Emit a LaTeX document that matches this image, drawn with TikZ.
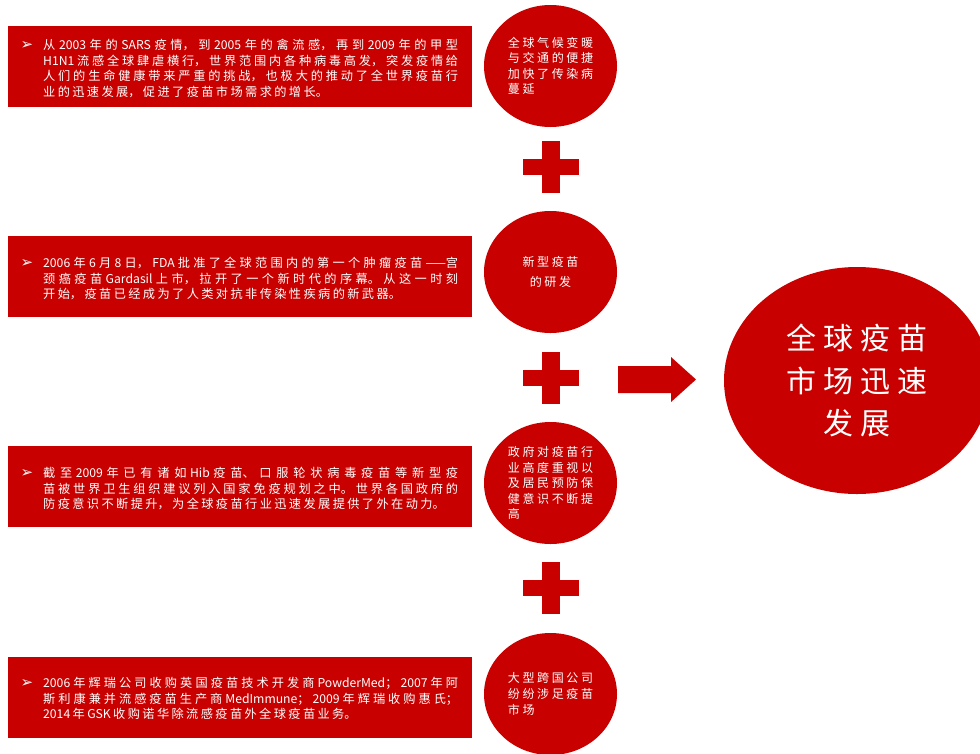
\documentclass[tikz,border=0pt]{standalone}
\usepackage{fontspec}
\usetikzlibrary{shapes.geometric}
\newfontfamily\cjkbox{Noto Sans CJK SC}
\newfontfamily\cjkcirc[LetterSpace=22]{Noto Sans CJK SC}
\newfontfamily\cjkbig[LetterSpace=23]{Noto Sans CJK SC}
\newfontfamily\dejavu{DejaVu Sans}
\XeTeXlinebreaklocale "zh"
\XeTeXlinebreakskip=0pt plus 4pt
\newcommand\myboxfont{\cjkbox\fontsize{12.2}{15.6}\selectfont\XeTeXlinebreakskip=2.4pt plus 4pt\relax}
\definecolor{vred}{HTML}{C80000}
\begin{document}
\begin{tikzpicture}[x=1pt,y=-1pt,
  box/.style={fill=vred,draw=none},
  boxtext/.style={anchor=west,inner sep=0pt,text width=415pt,align=justify,text=white,
    font=\myboxfont},
  bullet/.style={inner sep=0pt,text=white,font=\dejavu\fontsize{15}{15}\selectfont},
  circ/.style={ellipse,fill=vred,draw=none,minimum width=133pt,minimum height=122pt,inner sep=0pt,
    text=white,font=\cjkcirc\fontsize{12}{15.6}\selectfont},
  bigcirc/.style={ellipse,fill=vred,draw=none,minimum width=266pt,minimum height=227pt,inner sep=0pt,
    text=white,align=center,font=\cjkbig\fontsize{30}{42.5}\selectfont},
  plusbar/.style={fill=vred,draw=none}
]
\path[use as bounding box] (0,0) rectangle (980,753);
\clip (0,0) rectangle (980,753);

% left boxes
\path[box] (8,26) rectangle (472,107);
\path[box] (8,236) rectangle (472,317);
\path[box] (8,446) rectangle (472,527);
\path[box] (8,657) rectangle (472,738);

\node[bullet] (u1) at (27,45) {➢};
\node[bullet] (u2) at (27,263) {➢};
\node[bullet] (u3) at (27,473) {➢};
\node[bullet] (u4) at (27,683) {➢};

\node[boxtext] (t1) at (43,68.5) {从2003年的SARS疫情，到2005年的禽流感，再到2009年的甲型\linebreak
H1N1流感全球肆虐横行，世界范围内各种病毒高发，突发疫情给\linebreak
人们的生命健康带来严重的挑战，也极大的推动了全世界疫苗行\linebreak
业的迅速发展，促进了疫苗市场需求的增长。};
\node[boxtext] (t2) at (43,278.5) {2006年6月8日，FDA 批准了全球范围内的第一个肿瘤疫苗——宫\linebreak
颈癌疫苗Gardasil上市，拉开了一个新时代的序幕。从这一时刻\linebreak
开始，疫苗已经成为了人类对抗非传染性疾病的新武器。};
\node[boxtext] (t3) at (43,488.5) {截至 2009 年已有诸如 Hib 疫苗、口服轮状病毒疫苗等新型疫\linebreak
苗被世界卫生组织建议列入国家免疫规划之中。世界各国政府的\linebreak
防疫意识不断提升，为全球疫苗行业迅速发展提供了外在动力。};
\node[boxtext] (t4) at (43,698.5) {2006年辉瑞公司收购英国疫苗技术开发商 PowderMed；2007年阿\linebreak
斯利康兼并流感疫苗生产商MedImmune；2009年辉瑞收购惠氏；\linebreak
2014年GSK收购诺华除流感疫苗外全球疫苗业务。};

% circles
\node[circ,align=left] (c1) at (550.5,66) {全球气候变暖\\与交通的便捷\\加快了传染病\\蔓延};
\node[circ,align=center,font=\cjkcirc\fontsize{12}{20}\selectfont] (c2) at (550.5,272) {新型疫苗\\的研发};
\node[circ,align=left] (c3) at (550.5,483) {政府对疫苗行\\业高度重视以\\及居民预防保\\健意识不断提\\高};
\node[circ,align=left] (c4) at (550.5,694) {大型跨国公司\\纷纷涉足疫苗\\市场};

% plus signs
\foreach \n/\cy in {p1/167,p2/377.5,p3/588}{
  \path[plusbar] (523,\cy-8) rectangle (579,\cy+8);
  \path[plusbar] (542,\cy-26) rectangle (560,\cy+26);
  \coordinate (\n) at (551,\cy);
}

% arrow
\path[fill=vred] (618,366) -- (671,366) -- (671,357) -- (696,379.5) -- (671,402) -- (671,393) -- (618,393) -- cycle;

% big ellipse
\node[bigcirc] (E) at (857,380.5) {全球疫苗\\市场迅速\\发展};
\end{tikzpicture}
\end{document}
